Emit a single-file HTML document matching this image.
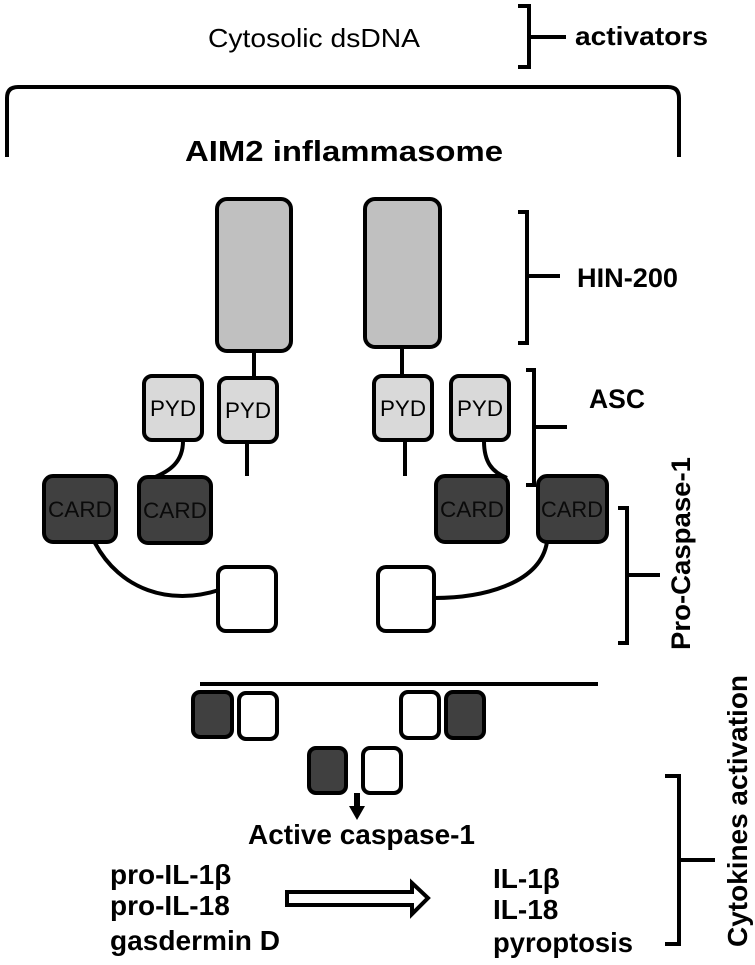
<!DOCTYPE html>
<html><head><meta charset="utf-8"><style>html,body{margin:0;padding:0;background:#fff}svg{display:block}</style></head>
<body>
<svg width="755" height="965" viewBox="0 0 755 965" xmlns="http://www.w3.org/2000/svg" font-family="'Liberation Sans', Arial, sans-serif">
<g fill="none" stroke="#000" stroke-width="4" stroke-linecap="butt">
  <path d="M518,6 H529 V67 H518"/><path d="M529,37 H566"/>
  <path d="M7,157 V98 Q7,87 18,87 H668 Q679,87 679,98 V157"/>
  <path d="M518,212 H527 V343 H518"/><path d="M527,276 H560"/>
  <path d="M526,370 H534 V485 H526"/><path d="M534,427 H567"/>
  <path d="M618,508 H627 V643 H618"/><path d="M627,575 H660"/>
  <path d="M665,776 H679 V944 H665"/><path d="M679,860 H715"/>
  <path d="M254,351 V378"/><path d="M247,442 V476"/>
  <path d="M402,347 V376"/><path d="M405,442 V476"/>
  <path d="M183,441 C183,462 170,471 153,478"/>
  <path d="M95,543 C120,590 170,606 219,590"/>
  <path d="M484,441 C484,462 492,472 507,478"/>
  <path d="M547,542 C540,585 480,598 434,598"/>
  <path d="M200,684 H598"/>
</g>
<g stroke="#000" stroke-width="4">
  <rect x="217" y="199" width="74" height="152" rx="10" fill="#c0c0c0"/>
  <rect x="365" y="199" width="75" height="148" rx="10" fill="#c0c0c0"/>
  <rect x="144" y="376" width="58" height="64" rx="8" fill="#d9d9d9"/>
  <rect x="219" y="378" width="58" height="64" rx="8" fill="#d9d9d9"/>
  <rect x="374" y="376" width="58" height="64" rx="8" fill="#d9d9d9"/>
  <rect x="451" y="376" width="58" height="64" rx="8" fill="#d9d9d9"/>
  <rect x="44" y="476" width="72" height="66" rx="9" fill="#404040"/>
  <rect x="139" y="477" width="72" height="66" rx="9" fill="#404040"/>
  <rect x="436" y="476" width="72" height="66" rx="9" fill="#404040"/>
  <rect x="538" y="476" width="69" height="66" rx="9" fill="#404040"/>
  <rect x="218" y="567" width="58" height="64" rx="8" fill="#fff"/>
  <rect x="378" y="567" width="56" height="64" rx="8" fill="#fff"/>
  <rect x="193" y="692" width="39" height="45" rx="7" fill="#404040"/>
  <rect x="239" y="693" width="38" height="46" rx="7" fill="#fff"/>
  <rect x="401" y="692" width="38" height="46" rx="7" fill="#fff"/>
  <rect x="446" y="692" width="38" height="46" rx="7" fill="#404040"/>
  <rect x="309" y="748" width="37" height="45" rx="7" fill="#404040"/>
  <rect x="363" y="748" width="38" height="45" rx="7" fill="#fff"/>
</g>
<path d="M354,793 V806 H349 L357,820 L365,806 H360 V793 Z" fill="#000"/>
<path d="M287,892 H412 V883 L428,898 L412,914 V905 H287 Z" fill="#fff" stroke="#000" stroke-width="4" stroke-linejoin="miter"/>
<g fill="#000">
  <text x="208" y="47" font-size="26" textLength="212" lengthAdjust="spacingAndGlyphs">Cytosolic dsDNA</text>
  <text x="575" y="45" font-size="26" font-weight="bold" textLength="133" lengthAdjust="spacingAndGlyphs">activators</text>
  <text x="185" y="161" font-size="29" font-weight="bold" textLength="318" lengthAdjust="spacingAndGlyphs">AIM2 inflammasome</text>
  <text x="577" y="287" font-size="27" font-weight="bold" textLength="101" lengthAdjust="spacingAndGlyphs">HIN-200</text>
  <text x="589" y="408" font-size="27" font-weight="bold" textLength="56" lengthAdjust="spacingAndGlyphs">ASC</text>
  <g font-size="22" text-anchor="middle">
    <text x="173" y="416" textLength="46" lengthAdjust="spacingAndGlyphs">PYD</text><text x="248" y="418" textLength="46" lengthAdjust="spacingAndGlyphs">PYD</text>
    <text x="403" y="416" textLength="46" lengthAdjust="spacingAndGlyphs">PYD</text><text x="480" y="416" textLength="46" lengthAdjust="spacingAndGlyphs">PYD</text>
  </g>
  <g font-size="22" text-anchor="middle" fill="#0a0a0a">
    <text x="80" y="517" textLength="64" lengthAdjust="spacingAndGlyphs">CARD</text>
    <text x="175" y="518" textLength="64" lengthAdjust="spacingAndGlyphs">CARD</text>
    <text x="472" y="517" textLength="64" lengthAdjust="spacingAndGlyphs">CARD</text>
    <text x="572" y="517" textLength="62" lengthAdjust="spacingAndGlyphs">CARD</text>
  </g>
  <text transform="translate(690,650) rotate(-90)" font-size="27" font-weight="bold" textLength="193" lengthAdjust="spacingAndGlyphs">Pro-Caspase-1</text>
  <text transform="translate(747,947) rotate(-90)" font-size="28" font-weight="bold" textLength="272" lengthAdjust="spacingAndGlyphs">Cytokines activation</text>
  <text x="248" y="844" font-size="28" font-weight="bold" textLength="227" lengthAdjust="spacingAndGlyphs">Active caspase-1</text>
  <g font-size="28" font-weight="bold">
    <text x="110" y="884">pro-IL-1β</text>
    <text x="110" y="915">pro-IL-18</text>
    <text x="110" y="950" textLength="170" lengthAdjust="spacingAndGlyphs">gasdermin D</text>
    <text x="493" y="888">IL-1β</text>
    <text x="493" y="919">IL-18</text>
    <text x="493" y="952" textLength="140" lengthAdjust="spacingAndGlyphs">pyroptosis</text>
  </g>
</g>
</svg>
</body></html>
